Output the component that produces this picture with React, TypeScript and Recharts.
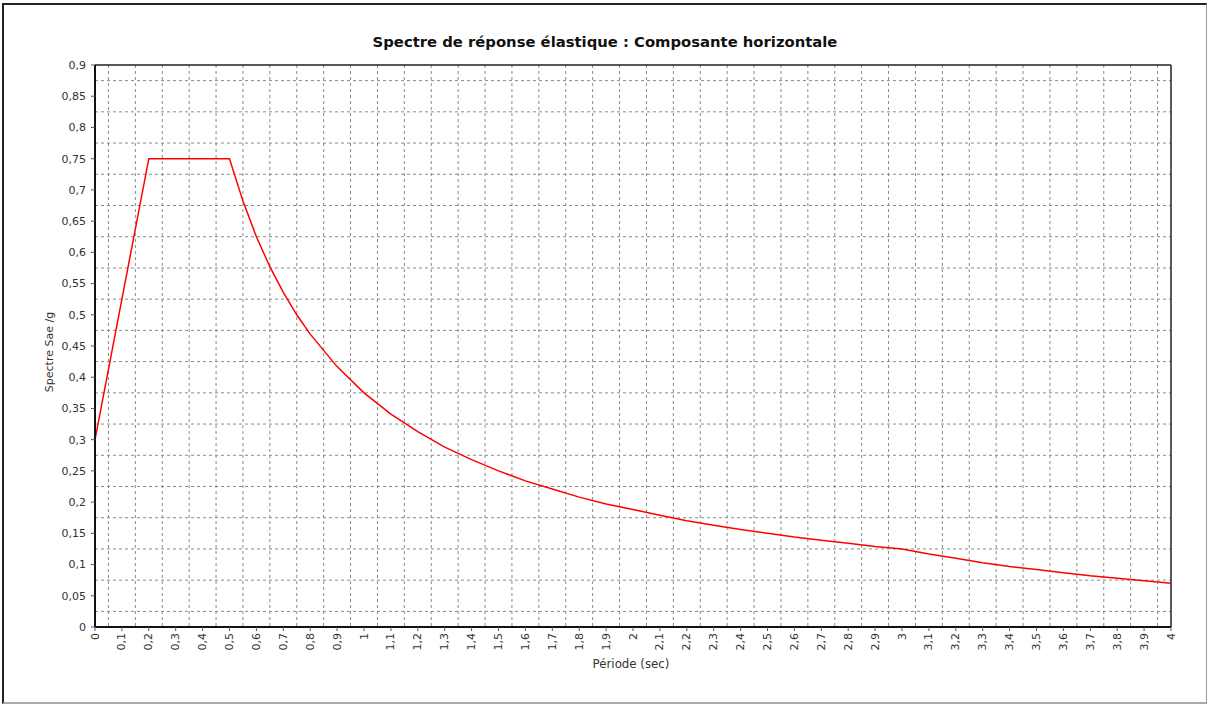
import React from "react";
import { LineChart, Line, XAxis, YAxis, CartesianGrid, ReferenceLine } from "recharts";

const PERIODS = [0, 0.2, 0.5, 0.55, 0.6, 0.65, 0.7, 0.75, 0.8, 0.9, 1.0, 1.1, 1.2, 1.3, 1.4, 1.5, 1.6, 1.7, 1.8, 1.9, 2.0, 2.1, 2.2, 2.3, 2.4, 2.5, 2.6, 2.7, 2.8, 2.9, 3.0, 3.1, 3.2, 3.3, 3.4, 3.5, 3.6, 3.7, 3.8, 3.9, 4.0];
const SAE = [0.3, 0.75, 0.75, 0.682, 0.625, 0.577, 0.536, 0.5, 0.469, 0.417, 0.375, 0.341, 0.313, 0.288, 0.268, 0.25, 0.234, 0.221, 0.208, 0.197, 0.188, 0.179, 0.17, 0.163, 0.156, 0.15, 0.144, 0.139, 0.134, 0.129, 0.125, 0.117, 0.11, 0.103, 0.097, 0.092, 0.087, 0.082, 0.078, 0.074, 0.07];

const X_TICKS = [0, 0.1, 0.2, 0.3, 0.4, 0.5, 0.6, 0.7, 0.8, 0.9, 1, 1.1, 1.2, 1.3, 1.4, 1.5, 1.6, 1.7, 1.8, 1.9, 2, 2.1, 2.2, 2.3, 2.4, 2.5, 2.6, 2.7, 2.8, 2.9, 3, 3.1, 3.2, 3.3, 3.4, 3.5, 3.6, 3.7, 3.8, 3.9, 4];
const Y_TICKS = [0, 0.05, 0.1, 0.15, 0.2, 0.25, 0.3, 0.35, 0.4, 0.45, 0.5, 0.55, 0.6, 0.65, 0.7, 0.75, 0.8, 0.85, 0.9];

const TITLE = "Spectre de réponse élastique : Composante horizontale";
const X_LABEL = "Période (sec)";
const Y_LABEL = "Spectre Sae /g";

const data = PERIODS.map((t, i) => ({ t, v: SAE[i] }));
const xGrid = X_TICKS.slice(0, -1).map((t) => t + 0.05);
const yGrid = Y_TICKS.slice(0, -1).map((t) => t + 0.025);

const FONT = "'DejaVu Sans', Verdana, sans-serif";
const fmt = (v: number) => String(v).replace(".", ",");

const XTick = (props: any) => {
  const { x, y, payload } = props;
  return (
    <text
      x={x}
      y={y}
      transform={`rotate(-90 ${x} ${y})`}
      textAnchor="end"
      dominantBaseline="central"
      fontSize={11}
      fontFamily={FONT}
      fill="#333"
    >
      {fmt(payload.value)}
    </text>
  );
};

export default function App() {
  return (
    <div style={{ position: "absolute", left: 0, top: 0, width: 1208, height: 704, background: "#fff" }}>
      <div
        style={{
          position: "absolute",
          left: 2,
          top: 3,
          width: 1202,
          height: 697,
          borderLeft: "2px solid #222",
          borderTop: "2px solid #222",
          borderRight: "1px solid #999",
          borderBottom: "2px solid #aaa",
        }}
      />
      <div
        style={{
          position: "absolute",
          left: 0,
          width: 1210,
          top: 33,
          textAlign: "center",
          fontFamily: FONT,
          fontWeight: "bold",
          fontSize: 14.8,
          color: "#111",
        }}
      >
        {TITLE}
      </div>
      <div
        style={{
          position: "absolute",
          left: 0,
          width: 1262,
          top: 657,
          textAlign: "center",
          fontFamily: FONT,
          fontSize: 11.8,
          color: "#333",
        }}
      >
        {X_LABEL}
      </div>
      <div
        style={{
          position: "absolute",
          left: 50,
          top: 352,
          width: 0,
          height: 0,
        }}
      >
        <div
          style={{
            position: "absolute",
            left: -100,
            top: -7,
            width: 200,
            textAlign: "center",
            transform: "rotate(-90deg)",
            fontFamily: FONT,
            fontSize: 11,
            color: "#333",
            lineHeight: "14px",
          }}
        >
          {Y_LABEL}
        </div>
      </div>
      <div style={{ position: "absolute", left: 0, top: 0 }}>
        <LineChart width={1208} height={704} data={data} margin={{ top: 65, right: 37, left: 0, bottom: 0 }}>
          <CartesianGrid
            stroke="#8a8a8a"
            strokeDasharray="3 3"
            horizontalValues={yGrid}
            verticalValues={xGrid}
          />
          <XAxis
            dataKey="t"
            type="number"
            domain={[0, 4]}
            ticks={X_TICKS}
            interval={0}
            height={77}
            tick={<XTick />}
            tickSize={4}
            tickMargin={2}
            axisLine={{ stroke: "#111", strokeWidth: 2 }}
            tickLine={{ stroke: "#555" }}
            allowDataOverflow
          />
          <YAxis
            type="number"
            domain={[0, 0.9]}
            ticks={Y_TICKS}
            interval={0}
            width={95}
            tickFormatter={fmt}
            tick={{ fontSize: 11, fontFamily: FONT, fill: "#333" }}
            tickSize={4}
            tickMargin={5}
            axisLine={{ stroke: "#111", strokeWidth: 2 }}
            tickLine={{ stroke: "#555" }}
            allowDataOverflow
          />
          <ReferenceLine y={0.9} stroke="#222" strokeWidth={1.5} />
          <ReferenceLine x={4} stroke="#222" strokeWidth={1.5} />
          <Line
            type="linear"
            dataKey="v"
            stroke="#ff0000"
            strokeWidth={1.5}
            dot={false}
            isAnimationActive={false}
          />
        </LineChart>
      </div>
    </div>
  );
}
